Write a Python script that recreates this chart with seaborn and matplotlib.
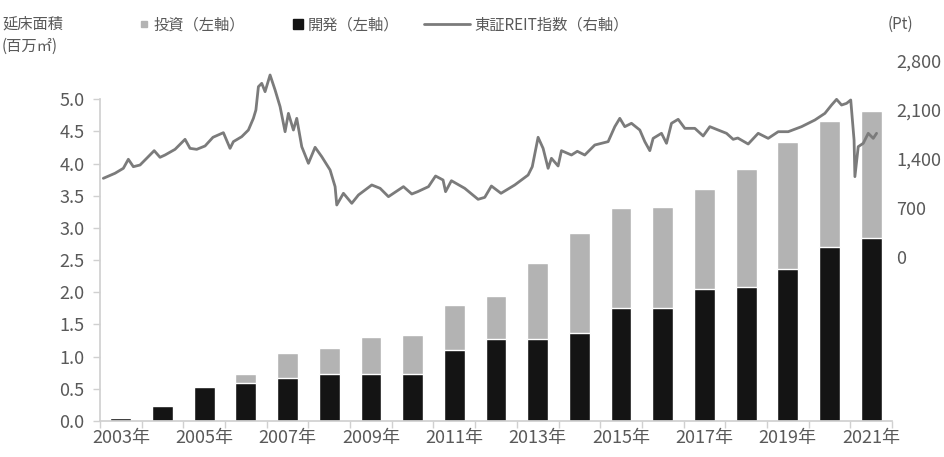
import numpy as np
import pandas as pd
import matplotlib
matplotlib.use("Agg")
import matplotlib.pyplot as plt
import seaborn as sns
from matplotlib.lines import Line2D

# データ
years = list(range(2003, 2022))
kaihatsu = [0.04, 0.23, 0.53, 0.585, 0.67, 0.725, 0.725, 0.725, 1.11, 1.27,
            1.27, 1.36, 1.75, 1.75, 2.05, 2.085, 2.355, 2.70, 2.84]
toushi = [0.0, 0.0, 0.0, 0.14, 0.38, 0.405, 0.575, 0.61, 0.69, 0.68,
          1.18, 1.56, 1.56, 1.57, 1.56, 1.825, 1.985, 1.97, 1.98]

# 東証REIT指数（年の小数位置, ポイント）
reit_t = [2003.08, 2003.36, 2003.56, 2003.68, 2003.80, 2003.96, 2004.12, 2004.30,
          2004.44, 2004.56, 2004.80, 2005.04, 2005.16, 2005.32, 2005.52, 2005.71,
          2005.96, 2006.12, 2006.20, 2006.40, 2006.56, 2006.68, 2006.74, 2006.80,
          2006.88, 2006.96, 2007.08, 2007.20, 2007.32, 2007.44, 2007.52, 2007.64,
          2007.72, 2007.84, 2008.00, 2008.16, 2008.32, 2008.52, 2008.64, 2008.68,
          2008.84, 2009.04, 2009.20, 2009.52, 2009.72, 2009.92, 2010.28, 2010.48,
          2010.62, 2010.88, 2011.05, 2011.23, 2011.29, 2011.43, 2011.75, 2012.07,
          2012.23, 2012.39, 2012.62, 2012.95, 2013.27, 2013.37, 2013.51, 2013.63,
          2013.75, 2013.83, 2013.99, 2014.07, 2014.31, 2014.45, 2014.63, 2014.87,
          2015.19, 2015.35, 2015.47, 2015.59, 2015.75, 2015.95, 2016.07, 2016.19,
          2016.27, 2016.47, 2016.59, 2016.71, 2016.87, 2017.03, 2017.27, 2017.47,
          2017.63, 2017.83, 2018.03, 2018.19, 2018.30, 2018.55, 2018.79, 2019.03,
          2019.27, 2019.51, 2019.83, 2020.15, 2020.39, 2020.55, 2020.67, 2020.79,
          2020.91, 2021.01, 2021.09, 2021.11, 2021.19, 2021.31, 2021.43, 2021.55,
          2021.63]
reit_v = [1124, 1196, 1267, 1396, 1290, 1314, 1410, 1519,
          1424, 1457, 1538, 1681, 1552, 1538, 1586, 1710,
          1776, 1552, 1648, 1719, 1814, 1981, 2100, 2433,
          2481, 2362, 2600, 2386, 2148, 1790, 2052, 1814,
          1981, 1576, 1338, 1567, 1433, 1243, 1005, 743,
          910, 767, 886, 1029, 981, 862, 1005, 900,
          933, 1005, 1157, 1100, 933, 1090, 981, 824,
          852, 1014, 910, 1029, 1171, 1290, 1710, 1552,
          1267, 1410, 1300, 1519, 1457, 1510, 1457, 1600,
          1648, 1862, 1981, 1862, 1910, 1814, 1648, 1519,
          1695, 1767, 1624, 1910, 1967, 1838, 1838, 1729,
          1862, 1814, 1767, 1681, 1700, 1614, 1767, 1695,
          1790, 1790, 1862, 1957, 2052, 2171, 2252, 2171,
          2195, 2243, 1671, 1148, 1576, 1624, 1767, 1695,
          1767]

left_ticks = [0.0, 0.5, 1.0, 1.5, 2.0, 2.5, 3.0, 3.5, 4.0, 4.5, 5.0]
right_ticks = [0, 700, 1400, 2100, 2800]

sns.set_theme(style="white")
plt.rcParams['font.family'] = ['Noto Sans CJK JP', 'DejaVu Sans']

GRAY_BAR = '#b3b3b3'
BLACK_BAR = '#141414'
LINE_C = '#7b7b7b'
TXT = '#595959'
SPINE = '#d0d0d0'

df = pd.DataFrame({'year': years, 'kaihatsu': kaihatsu, 'toushi': toushi})
df['total'] = df['kaihatsu'] + df['toushi']

fig = plt.figure(figsize=(9.44, 4.57), dpi=100)
ax = fig.add_axes([100/944, 1 - 421/457, 792/944, 360/457])

# 積み上げ棒（合計を灰色で描き、その上に開発を黒で重ねる）
sns.barplot(data=df, x='year', y='total', color=GRAY_BAR, width=0.5,
            saturation=1, ax=ax)
sns.barplot(data=df, x='year', y='kaihatsu', color=BLACK_BAR, width=0.5,
            saturation=1, ax=ax)

ax2 = ax.twinx()
sns.lineplot(x=np.array(reit_t) - 2003.5, y=reit_v, color=LINE_C, lw=2,
             ax=ax2)

ax.set_xlim(-0.5, 18.5)
ax.set_ylim(0, 5.595)
ax2.set_ylim(-2343, 2800)

# 左軸
ax.set_yticks(left_ticks, [f"{v:.1f}" for v in left_ticks])
ax.spines['left'].set_bounds(0, 5)
ax.tick_params(axis='y', left=True, length=5, width=1, color=SPINE,
               labelsize=13, labelcolor=TXT, pad=6)

# x 軸
ax.set_xticks(range(0, 19, 2), [f"{y}年" for y in years[::2]])
ax.set_xticks(np.arange(-0.5, 19, 1), minor=True)
ax.tick_params(axis='x', which='major', length=0, labelsize=13,
               labelcolor=TXT, pad=6)
ax.tick_params(axis='x', which='minor', bottom=True, length=5, width=1,
               color=SPINE)
ax.set_xlabel('')
ax.set_ylabel('')

# 右軸
ax2.set_yticks(right_ticks, [f"{v:,}" for v in right_ticks])
ax2.tick_params(axis='y', right=False, length=0, labelsize=13,
                labelcolor=TXT, pad=3)
ax2.set_ylabel('')

for a in (ax, ax2):
    a.spines['top'].set_visible(False)
    a.spines['right'].set_visible(False)
    a.spines['left'].set_color(SPINE)
    a.spines['bottom'].set_color(SPINE)
ax2.spines['left'].set_visible(False)
ax2.spines['bottom'].set_visible(False)

# 軸タイトル
fig.text(2/944, 1 - 24/457, "延床面積", fontsize=11, color=TXT, va='center')
fig.text(2/944, 1 - 46/457, "(百万㎡)", fontsize=11, color=TXT, va='center')
fig.text(888/944, 1 - 24/457, "(Pt)", fontsize=11, color=TXT, va='center')

# 凡例
sq_handles = [Line2D([], [], marker='s', linestyle='none', color=GRAY_BAR,
                     markersize=5),
              Line2D([], [], marker='s', linestyle='none', color=BLACK_BAR,
                     markersize=7)]
leg1 = fig.legend(sq_handles, ["投資（左軸）", "開発（左軸）"], loc='center left',
                  bbox_to_anchor=(126/944, 1 - 25/457), ncol=2, frameon=False,
                  handlelength=0.6, handletextpad=0.3, columnspacing=3.2,
                  fontsize=11, labelcolor=TXT)
leg2 = fig.legend([Line2D([], [], color=LINE_C, lw=2)], ["東証REIT指数（右軸）"],
                  loc='center left', bbox_to_anchor=(410/944, 1 - 25/457),
                  frameon=False, handlelength=3.0, handletextpad=0.3,
                  fontsize=11, labelcolor=TXT)

fig.savefig("out.png", dpi=100)
